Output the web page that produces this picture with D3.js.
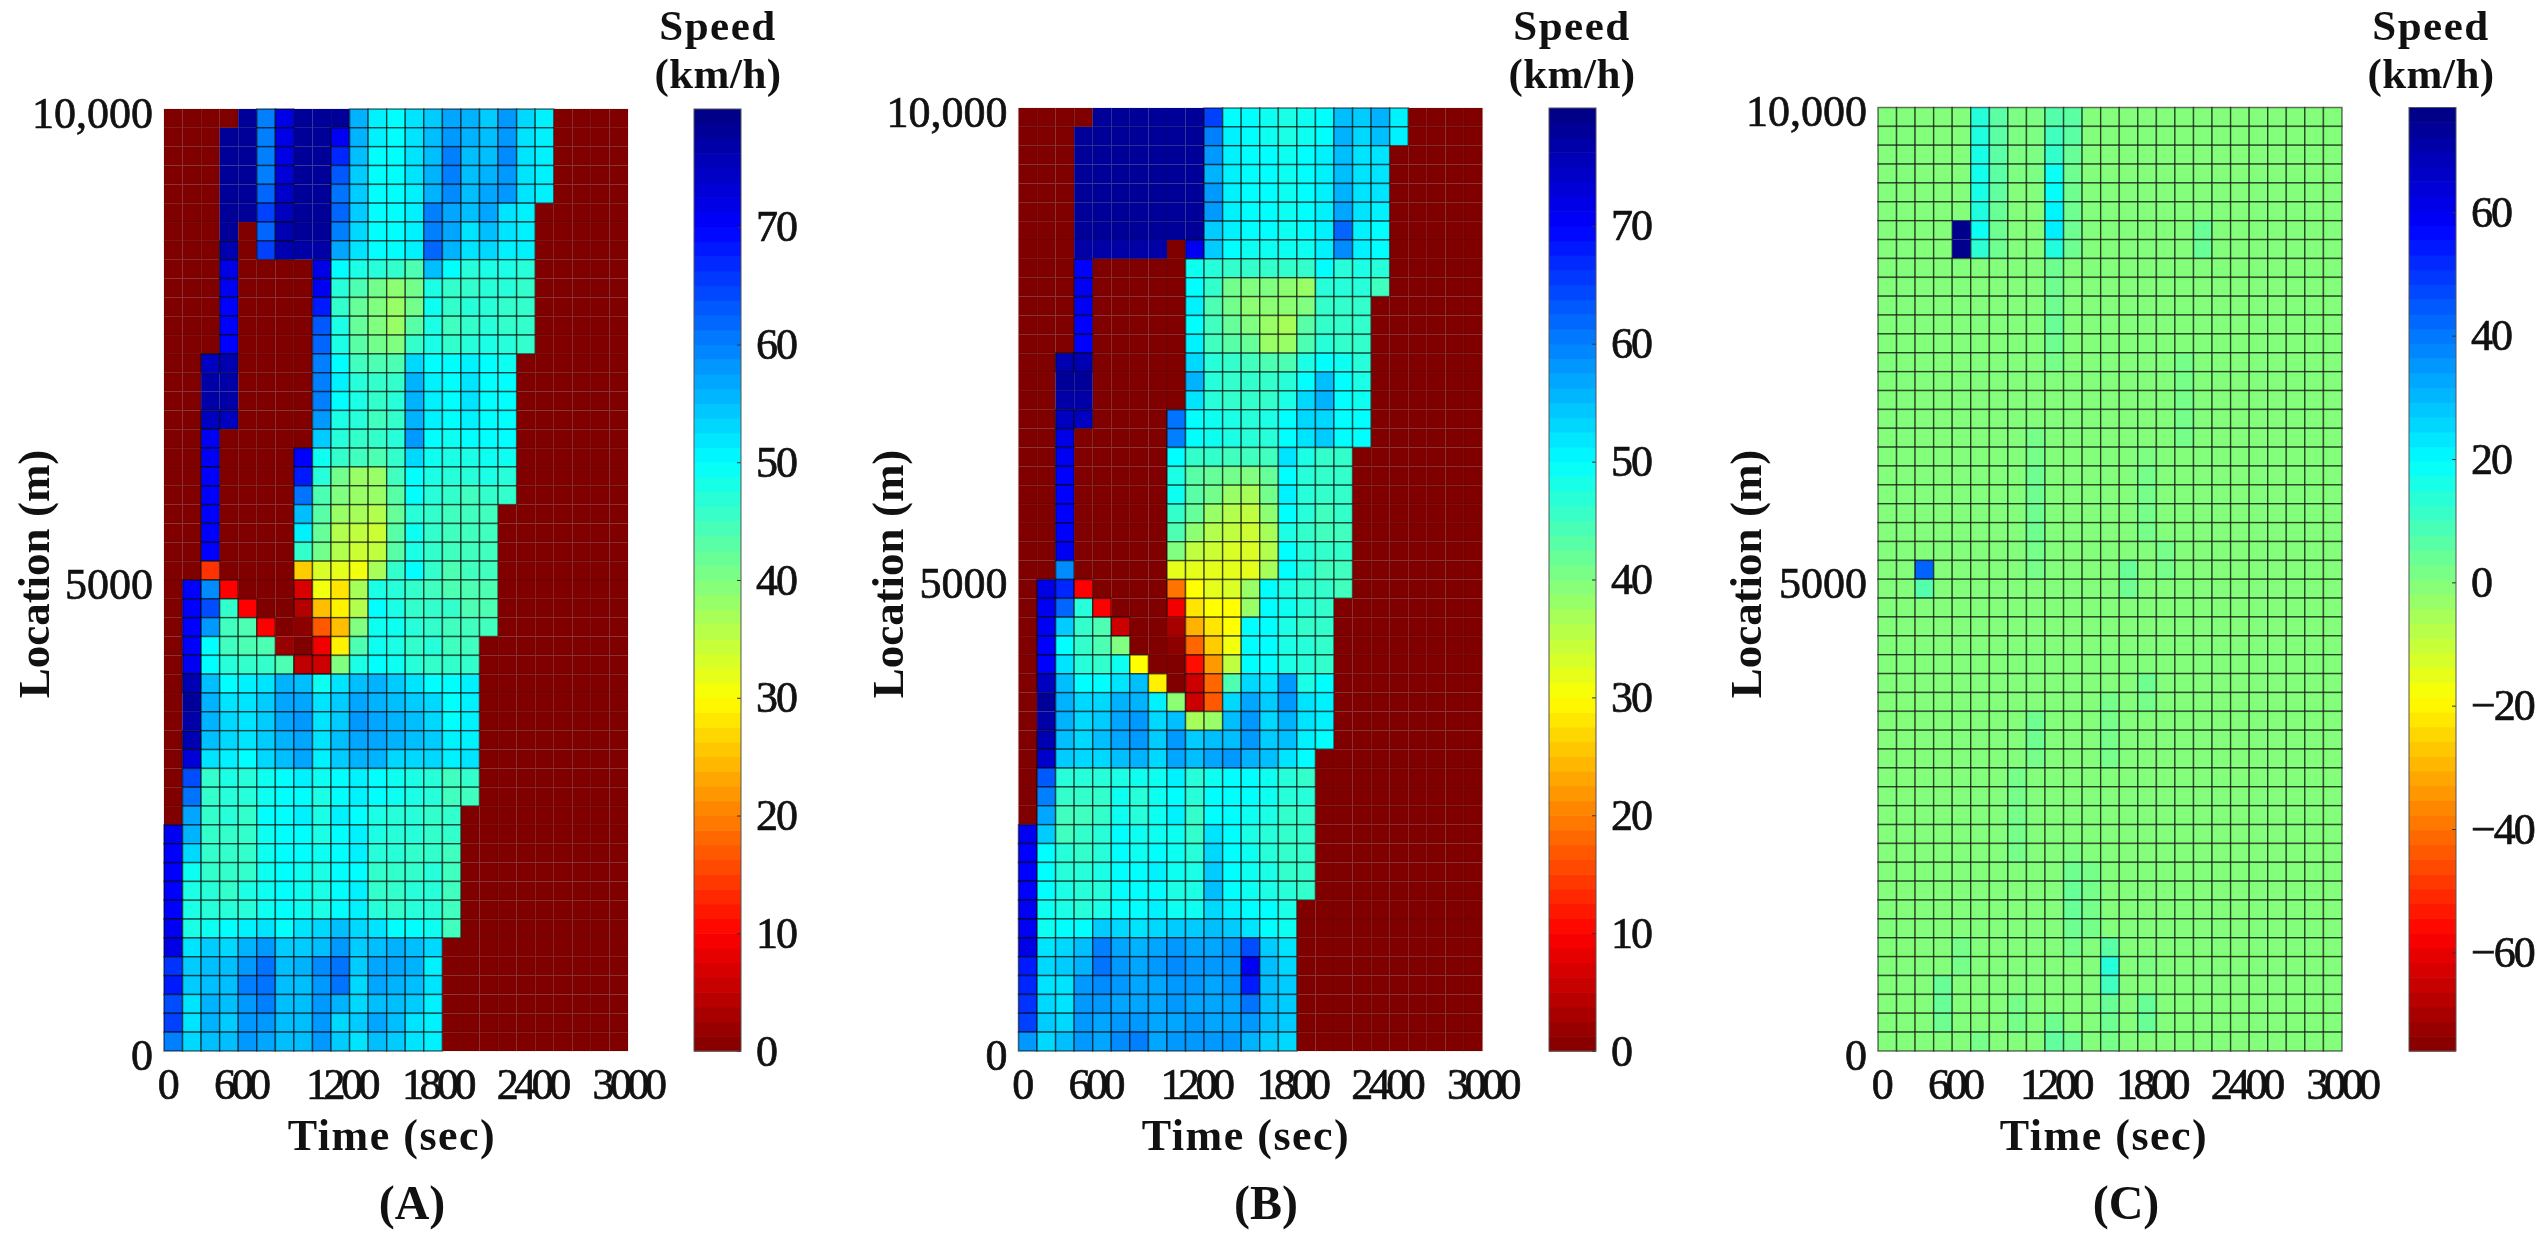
<!DOCTYPE html>
<html>
<head>
<meta charset="utf-8">
<script src="https://cdn.jsdelivr.net/npm/d3@7"></script>
<style>
  html, body { margin: 0; background: #fff; }
  text { font-family: "Liberation Serif", serif; fill: #111; }
  .tick text { stroke: #111; stroke-width: 0.7px; }
</style>
</head>
<body>
<div id="chart"></div>
<script>
// speed per cell, top row = 10,000 m, left column = 0 sec. Missing trailing cells are 0.
const speedObserved = [
  [0,0,0,0,78,60,72,78,78,78,56,51,50,52,54,57,56,54,58,53,51],
  [0,0,0,78,78,60,72,78,78,71,56,51,50,52,55,58,56,55,58,52,51],
  [0,0,0,78,78,60,72,78,78,67,55,50,50,52,55,60,55,55,59,52,51],
  [0,0,0,78,78,60,73,78,78,63,54,50,50,52,56,60,55,56,58,52,51],
  [0,0,0,78,78,62,74,78,78,61,54,50,50,51,56,59,55,57,58,52,51],
  [0,0,0,78,78,65,75,78,78,62,54,50,50,51,60,57,55,57,52,51],
  [0,0,0,78,0,62,76,78,78,60,53,50,50,51,60,57,52,55,52,51],
  [0,0,0,76,0,65,76,77,77,57,52,50,50,51,62,56,52,53,51,51],
  [0,0,0,72,0,0,0,0,72,50,48,47,46,44,55,50,47,48,48,47],
  [0,0,0,71,0,0,0,0,71,47,44,41,39,41,48,46,46,47,47,46],
  [0,0,0,70,0,0,0,0,68,46,42,40,38,41,49,46,47,47,46,46],
  [0,0,0,70,0,0,0,0,63,48,42,40,38,43,48,45,46,47,46,46],
  [0,0,0,70,0,0,0,0,62,48,43,41,40,46,48,46,47,48,47,46],
  [0,0,75,76,0,0,0,0,60,50,45,44,44,53,50,50,51,50,49],
  [0,0,77,77,0,0,0,0,60,51,47,46,46,56,51,50,52,50,50],
  [0,0,77,77,0,0,0,0,60,50,48,46,47,56,51,50,52,50,50],
  [0,0,75,75,0,0,0,0,58,48,47,45,46,56,51,50,51,50,50],
  [0,0,71,0,0,0,0,0,54,47,46,46,47,58,50,49,50,50,50],
  [0,0,71,0,0,0,0,70,49,46,45,44,46,53,49,48,48,49,49],
  [0,0,70,0,0,0,0,68,47,41,38,38,45,50,48,47,47,48,47],
  [0,0,70,0,0,0,0,61,44,40,38,38,43,50,47,46,45,46,46],
  [0,0,70,0,0,0,0,55,43,38,37,36,42,47,46,45,45,45],
  [0,0,70,0,0,0,0,51,42,36,35,34,43,49,46,45,45,45],
  [0,0,70,0,0,0,0,46,41,36,34,35,43,48,46,45,45,45],
  [0,0,14,0,0,0,0,26,33,32,31,37,46,50,46,44,45,45],
  [0,70,59,10,0,0,0,7,31,28,37,48,47,46,45,44,44,44],
  [0,70,64,46,10,0,0,4,25,29,36,50,48,46,46,46,44,44],
  [0,70,58,45,44,10,0,1,17,25,40,49,49,47,46,45,45,45],
  [0,70,50,45,44,44,2,0,9,29,44,49,48,46,47,45,45],
  [0,71,50,47,46,46,44,5,6,40,48,50,49,47,46,46,46],
  [0,76,55,50,51,52,56,55,49,52,55,56,54,52,50,50,51],
  [0,78,56,52,52,54,57,57,52,54,57,56,55,54,53,50,51],
  [0,77,56,53,52,54,57,58,52,54,58,57,56,55,53,50,51],
  [0,76,55,53,52,54,56,57,52,55,57,57,56,55,54,51,51],
  [0,73,52,51,50,53,55,57,51,54,56,56,53,53,53,51,52],
  [0,64,46,48,47,49,50,51,49,50,51,50,49,48,47,45,46],
  [0,61,46,47,47,49,50,50,48,50,51,50,49,48,47,45,45],
  [0,57,46,47,46,50,50,51,48,51,50,48,47,47,46,46],
  [71,56,46,46,46,49,50,50,48,50,51,48,47,47,46,46],
  [70,53,46,46,46,49,50,50,49,50,51,47,47,46,46,45],
  [70,49,46,46,46,49,50,49,48,50,50,46,46,46,47,45],
  [70,48,47,46,48,49,50,49,48,50,51,46,46,47,47,45],
  [70,48,47,47,47,49,50,49,48,50,51,47,46,47,47,45],
  [71,48,49,50,51,52,50,52,53,55,53,52,50,50,49,45],
  [72,52,54,53,56,58,54,54,55,58,54,55,56,55,53],
  [66,54,55,55,58,61,55,56,59,61,54,57,57,56,51],
  [68,54,55,55,60,61,55,55,58,61,53,57,56,55,52],
  [64,52,56,55,58,60,55,55,58,56,53,55,55,54,51],
  [65,52,56,54,58,58,55,55,58,53,54,57,55,52,51],
  [60,53,55,55,58,57,55,55,58,54,52,55,54,52,51]
];

const speedEstimated = [
  [0,0,0,0,78,78,78,78,78,78,65,50,50,49,48,49,50,55,54,56,51],
  [0,0,0,78,78,78,78,78,78,78,60,51,50,49,48,49,50,56,53,55,51],
  [0,0,0,78,78,78,78,78,78,78,58,51,50,50,49,50,51,55,52,52],
  [0,0,0,78,78,78,78,78,78,78,56,51,50,50,49,50,51,55,52,52],
  [0,0,0,78,78,78,78,78,78,78,58,51,50,50,49,50,51,56,52,52],
  [0,0,0,78,78,78,78,78,78,78,58,51,50,50,49,50,51,57,52,51],
  [0,0,0,78,78,78,78,78,78,78,54,51,50,50,49,50,51,62,51,50],
  [0,0,0,77,77,77,77,77,0,71,54,50,49,49,49,49,51,59,51,50],
  [0,0,0,70,0,0,0,0,0,49,47,46,46,46,46,46,50,47,48,47],
  [0,0,0,71,0,0,0,0,0,50,46,41,40,40,39,38,47,47,47,45],
  [0,0,0,71,0,0,0,0,0,51,44,41,39,39,39,40,46,46,46],
  [0,0,0,70,0,0,0,0,0,50,45,42,40,38,37,43,46,46,46],
  [0,0,0,70,0,0,0,0,0,51,45,43,42,38,38,44,47,46,46],
  [0,0,76,76,0,0,0,0,0,53,47,46,45,44,44,48,50,49,47],
  [0,0,78,78,0,0,0,0,0,56,47,46,46,46,47,50,55,50,48],
  [0,0,77,77,0,0,0,0,0,52,47,46,46,46,48,53,56,50,49],
  [0,0,75,75,0,0,0,0,61,50,49,48,47,48,50,53,53,50,50],
  [0,0,72,0,0,0,0,0,60,50,49,48,47,47,50,52,54,50,50],
  [0,0,71,0,0,0,0,0,50,46,46,45,45,45,52,48,46,46],
  [0,0,70,0,0,0,0,0,48,43,42,41,40,42,50,47,46,46],
  [0,0,70,0,0,0,0,0,49,43,41,38,37,41,51,47,46,46],
  [0,0,70,0,0,0,0,0,46,42,38,36,35,39,50,47,45,46],
  [0,0,70,0,0,0,0,0,44,39,36,35,34,37,48,46,45,45],
  [0,0,71,0,0,0,0,0,40,35,34,33,33,36,50,47,46,46],
  [0,0,59,0,0,0,0,0,32,32,32,32,32,37,50,47,45,45],
  [0,72,67,10,0,0,0,0,19,30,32,33,38,50,48,46,46,45],
  [0,71,62,47,10,0,0,0,9,28,30,30,38,50,49,47,46],
  [0,71,54,46,44,6,0,0,3,24,28,30,50,50,48,46,46],
  [0,70,50,46,44,40,0,0,1,18,26,31,50,50,48,47,46],
  [0,70,52,47,46,49,30,0,0,11,22,35,50,50,48,47,46],
  [0,75,55,50,50,52,55,29,0,6,18,44,53,52,58,48,50],
  [0,78,56,53,53,56,56,51,39,6,17,53,57,54,58,52,51],
  [0,77,56,53,54,57,58,53,55,37,38,55,58,53,56,52,51],
  [0,76,55,53,55,57,58,54,58,54,55,55,58,54,55,51,50],
  [0,74,54,53,53,55,56,53,57,55,57,58,56,55,52,50],
  [0,63,47,47,47,48,49,49,51,47,49,50,50,49,47,46],
  [0,60,46,46,46,49,47,49,50,47,50,50,50,49,47,47],
  [0,57,45,45,46,49,47,49,51,46,50,50,49,48,46,46],
  [71,54,45,46,47,50,49,49,49,46,52,50,48,47,46,46],
  [70,50,47,46,47,50,49,50,49,47,53,50,49,47,46,46],
  [70,50,47,47,48,50,50,51,49,48,54,50,49,48,46,46],
  [70,50,48,47,47,50,50,50,48,48,55,50,49,48,47,46],
  [71,49,48,47,48,50,50,51,49,49,53,51,50,50,48],
  [71,49,50,50,54,53,52,53,54,54,55,54,52,50,49],
  [72,52,53,55,60,57,56,57,58,57,57,58,64,54,52],
  [68,53,54,56,61,58,57,58,59,58,58,58,71,55,53],
  [67,52,52,58,59,58,57,57,58,58,57,58,68,55,54],
  [66,53,52,58,58,57,57,57,58,57,57,57,61,55,54],
  [65,54,53,58,57,58,58,57,57,58,57,57,58,55,54],
  [58,53,55,58,57,59,60,57,58,58,58,58,56,54,53]
];

const speedDifference = [
  [0,0,0,0,0,14,6,1,1,7,6],
  [0,0,0,0,0,15,6,1,1,10,6],
  [0,0,0,0,0,16,6,1,1,12,4],
  [0,0,0,0,0,17,6,1,1,18,3],
  [0,0,0,0,0,16,5,0,0,19,3],
  [0,0,0,0,0,15,4,0,0,21,3],
  [0,0,0,0,75,18,3,0,0,22,3,0,0,0,0,0,0,4],
  [0,0,0,0,75,13,3,0,0,15,3,0,0,0,0,0,0,4],
  [0,0,0,0,0,0,0,0,0,3],
  [0,0,0,0,0,0,0,0,0,3],
  [0,0,0,0,0,0,0,0,0,3],
  [0,0,0,0,0,0,0,0,0,4],
  [0,0,0,0,0,0,0,0,0,3],
  [0,0,0,0,0,0,0,0,0,2,0,0,0,0,0,0,2],
  [0,0,0,0,0,0,0,0,0,0,0,0,0,0,0,0,2],
  [0,0,0,0,0,0,0,0,0,0,0,0,0,0,0,0,2],
  [0,0,0,0,0,0,0,0,0,0,0,0,0,0,0,0,2],
  [0,0,0,0,0,0,0,0,2,0,0,0,0,0,0,0,2],
  [0,0,0,0,0,0,0,0,2,0,0,0,0,0,1],
  [0,0,0,0,0,0,0,0,3,0,0,0,0,0,2],
  [0,0,0,0,0,0,0,0,3,0,0,0,0,0,2],
  [0,0,0,0,0,0,0,0,3,0,0,0,0,0,2],
  [0,0,0,0,0,0,0,0,3,0,0,0,0,0,2],
  [0,0,0,0,0,0,0,0,2,0,0,0,0,0,0,2],
  [0,0,43,0,0,0,0,0,2,0,0,0,0,4,0,2],
  [0,0,7,0,0,0,0,0,0,0,0,0,0,3],
  [0],
  [0],
  [0],
  [0],
  [0,0,0,0,0,0,0,0,0,0,0,0,0,0,3],
  [0,0,0,0,0,0,0,0,0,0,0,0,2,0,2],
  [0,0,0,0,0,0,0,0,3,0,0,0,2],
  [0,0,0,0,0,0,0,0,3,0,0,0,2],
  [0,0,0,0,0,0,0,0,2,0,0,0,2],
  [0,0,0,0,0,0,0,2],
  [0,0,0,0,0,0,0,2],
  [0,0,0,0,0,0,0,2],
  [0,0,0,0,0,0,0,2],
  [0,0,0,0,0,0,0,2,0,0,1],
  [0,0,0,0,0,0,0,0,0,0,3,2],
  [0,0,0,0,0,0,0,0,0,0,4,2],
  [0,0,0,0,0,0,0,0,0,0,4,2],
  [0,0,0,0,0,0,0,0,0,0,3,2],
  [0,0,0,0,2,0,0,0,0,0,2,0,6],
  [0,0,0,0,2,0,0,0,0,0,0,0,14,0,1],
  [0,0,0,4,0,0,0,0,0,0,0,0,10],
  [0,0,0,4,0,0,0,2,0,0,0,0,4,0,4],
  [0,0,0,3,0,0,0,2,0,3,0,0,3,0,4],
  [0,0,0,0,0,2,0,0,0,5,3,0,2]
];

const xTickValues = [0, 600, 1200, 1800, 2400, 3000];
const yTickValues = [0, 5000, 10000];
const yTickLabels = ['0', '5000', '10,000'];
const speedBarTicks = [0, 10, 20, 30, 40, 50, 60, 70];
const diffBarTicks = [-60, -40, -20, 0, 20, 40, 60];
const panelLetters = ['(A)', '(B)', '(C)'];

const timeStep = 120;
const locationStep = 200;

// the x labels in the figure are not quite under their positions
const xLabelNudge = [2, -17, -9, -6, -4, -1];

// jet, reversed: low values are dark red, high values dark blue
const jetStops = [0, 0.125, 0.375, 0.625, 0.875, 1];
const jetColors = ['#800000', '#ff0000', '#ffff00', '#00ffff', '#0000ff', '#000080'];

const panels = [
  { cells: speedObserved, domain: [0, 80], ticks: speedBarTicks, left: 164, plotTop: 109, barLeft: 694, titleX: 718, xLabelX: 392, yLabelX: 33, letterX: 412 },
  { cells: speedEstimated, domain: [0, 80], ticks: speedBarTicks, left: 1018.5, plotTop: 108, barLeft: 1549, titleX: 1572, xLabelX: 1246, yLabelX: 887, letterX: 1266 },
  { cells: speedDifference, domain: [-76, 77], ticks: diffBarTicks, left: 1878, plotTop: 107.5, barLeft: 2409, titleX: 2431, xLabelX: 2104, yLabelX: 1745, letterX: 2126 }
];

const plotWidth = 464;
const barWidth = 47;
const plotBottom = 1051;

const svg = d3.select('#chart').append('svg')
  .attr('width', 2540)
  .attr('height', 1240);

const root = svg.append('g').style('filter', 'blur(0.6px)');

panels.forEach((p, i) => {
  const g = root.append('g');
  const x = d3.scaleLinear().domain([0, 3000]).range([p.left, p.left + plotWidth]);
  const y = d3.scaleLinear().domain([0, 10000]).range([plotBottom, p.plotTop]);
  const bar = d3.scaleLinear().domain(p.domain).range([plotBottom, p.plotTop]);
  const fraction = d3.scaleLinear().domain(p.domain).range([0, 1]);
  const jet = d3.scaleLinear().domain(jetStops).range(jetColors).clamp(true);
  const color = v => jet(fraction(v));

  // flatten the table so each cell keeps its own time and location
  const cells = [];
  p.cells.forEach((row, r) => {
    d3.range(3000 / timeStep).forEach(c => {
      cells.push({ time: c * timeStep, location: 10000 - (r + 1) * locationStep, value: row[c] ?? 0 });
    });
  });

  g.append('g').selectAll('rect')
    .data(cells)
    .join('rect')
    .attr('x', d => x(d.time))
    .attr('y', d => y(d.location + locationStep))
    .attr('width', d => x(d.time + timeStep) - x(d.time))
    .attr('height', d => y(d.location) - y(d.location + locationStep))
    .attr('fill', d => color(d.value))
    .attr('stroke', '#000')
    .attr('stroke-width', 1.5)
    // grid hardly shows on the very dark ends of the map
    .attr('stroke-opacity', d => (fraction(d.value) < 0.04 || fraction(d.value) > 0.95) ? 0.08 : 0.55);

  const xAxis = d3.axisBottom(x).tickValues(xTickValues).tickFormat(d3.format('d')).tickSize(0).tickPadding(0);
  const xG = g.append('g')
    .attr('transform', `translate(0,${plotBottom})`)
    .call(xAxis);
  xG.select('.domain').remove();
  xG.selectAll('text')
    .attr('y', 48)
    .attr('dy', 0)
    .attr('dx', (d, k) => xLabelNudge[k])
    .style('font-size', '44px')
    .style('letter-spacing', '-4.5px');

  const yAxis = d3.axisLeft(y).tickValues(yTickValues).tickFormat((d, k) => yTickLabels[k]).tickSize(0).tickPadding(11);
  const yG = g.append('g')
    .attr('transform', `translate(${p.left},0)`)
    .call(yAxis);
  yG.select('.domain').remove();
  yG.selectAll('text')
    .attr('dy', '0.42em')
    .style('font-size', '44px');

  // colour bar
  const steps = d3.range(64);
  const stepSpan = (p.domain[1] - p.domain[0]) / steps.length;
  g.append('g').selectAll('rect')
    .data(steps)
    .join('rect')
    .attr('x', p.barLeft)
    .attr('y', d => bar(p.domain[0] + (d + 1) * stepSpan))
    .attr('width', barWidth)
    .attr('height', d => bar(p.domain[0] + d * stepSpan) - bar(p.domain[0] + (d + 1) * stepSpan) + 0.6)
    .attr('fill', d => color(p.domain[0] + (d + 0.5) * stepSpan));

  const barAxis = d3.axisRight(bar).tickValues(p.ticks).tickSize(-4).tickPadding(15);
  const barG = g.append('g')
    .attr('transform', `translate(${p.barLeft + barWidth},0)`)
    .call(barAxis);
  barG.select('.domain').attr('stroke', 'none');
  barG.selectAll('line').attr('stroke', '#333');
  barG.selectAll('text')
    .style('font-size', '44px')
    .style('letter-spacing', '-2px');

  g.append('rect')
    .attr('x', p.barLeft)
    .attr('y', p.plotTop)
    .attr('width', barWidth)
    .attr('height', plotBottom - p.plotTop)
    .attr('fill', 'none')
    .attr('stroke', '#555')
    .attr('stroke-width', 1);

  // titles
  g.append('text').attr('x', p.titleX).attr('y', 40)
    .attr('text-anchor', 'middle')
    .style('font-size', '43px').style('font-weight', 'bold').style('letter-spacing', '1.5px')
    .text('Speed');
  g.append('text').attr('x', p.titleX).attr('y', 88)
    .attr('text-anchor', 'middle')
    .style('font-size', '43px').style('font-weight', 'bold').style('letter-spacing', '0.5px')
    .text('(km/h)');
  g.append('text').attr('x', p.xLabelX).attr('y', 1150)
    .attr('text-anchor', 'middle')
    .style('font-size', '44px').style('font-weight', 'bold').style('letter-spacing', '1.5px')
    .text('Time (sec)');
  g.append('text')
    .attr('transform', `translate(${p.yLabelX},574) rotate(-90)`)
    .attr('text-anchor', 'middle')
    .attr('dy', '0.35em')
    .style('font-size', '45px').style('font-weight', 'bold')
    .text('Location (m)');
  g.append('text').attr('x', p.letterX).attr('y', 1219)
    .attr('text-anchor', 'middle')
    .style('font-size', '48px').style('font-weight', 'bold')
    .text(panelLetters[i]);
});
</script>
</body>
</html>
